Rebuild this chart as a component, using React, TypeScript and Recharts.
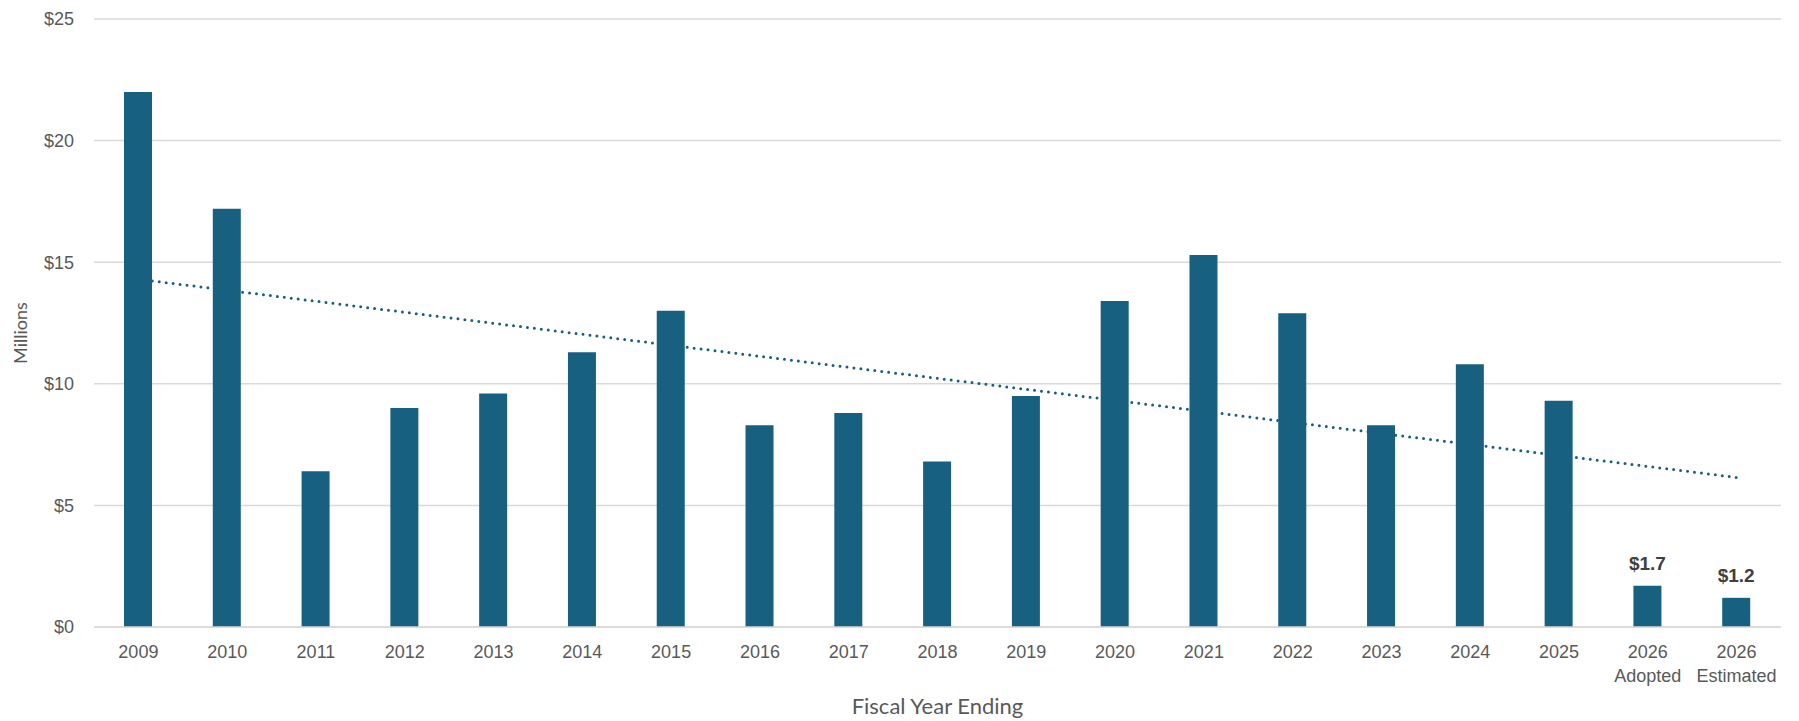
import React from 'react';
import { ComposedChart, Bar, Line, XAxis, YAxis, CartesianGrid, LabelList, Label } from 'recharts';

const years = ['2009','2010','2011','2012','2013','2014','2015','2016','2017','2018','2019','2020','2021','2022','2023','2024','2025','2026','2026'];
const subLabels = ['','','','','','','','','','','','','','','','','','Adopted','Estimated'];
const values = [22.0,17.2,6.4,9.0,9.6,11.3,13.0,8.3,8.8,6.8,9.5,13.4,15.3,12.9,8.3,10.8,9.3,1.7,1.2];
const dataLabels = ['','','','','','','','','','','','','','','','','','$1.7','$1.2'];
const trendEnds = [14.3, 6.15];
const yTicks = [0,5,10,15,20,25];

const data = years.map((y, i) => ({
  key: `${y}|${subLabels[i]}|${i}`,
  year: y,
  sub: subLabels[i],
  value: values[i],
  label: dataLabels[i] || null,
  trend: i === 0 ? trendEnds[0] : i === years.length - 1 ? trendEnds[1] : null,
}));

const BLUE = '#17607f';
const GRAY = '#595959';
const TICK_FONT = '"Liberation Sans", Arial, sans-serif';
const TITLE_FONT = 'Lato, "Open Sans", sans-serif';

const XTick = (props: any) => {
  const { x, y, payload } = props;
  const parts = String(payload.value).split('|');
  return (
    <text x={x} y={y} textAnchor="middle" fill={GRAY} fontSize={18} fontFamily={TICK_FONT}>
      <tspan x={x} dy="0.71em">{parts[0]}</tspan>
      {parts[1] ? <tspan x={x} dy="24">{parts[1]}</tspan> : null}
    </text>
  );
};

export default function App() {
  return (
    <div style={{ marginTop: -8, marginLeft: -8, width: 1799, height: 721 }}>
      <ComposedChart width={1799} height={721} data={data} margin={{ top: 19, right: 18, left: 0, bottom: 0 }}>
        <CartesianGrid horizontal vertical={false} stroke="#d9d9d9" strokeWidth={1.5} />
        <XAxis
          dataKey="key"
          height={94}
          tick={<XTick />}
          tickLine={false}
          tickSize={0}
          tickMargin={18}
          axisLine={{ stroke: '#d9d9d9', strokeWidth: 1.5 }}
          interval={0}
        >
          <Label
            content={(p: any) => {
              const vb = p.viewBox;
              return (
                <text x={vb.x + vb.width / 2} y={708} textAnchor="middle" dominantBaseline="middle" fill={GRAY} fontSize={22} fontFamily={TITLE_FONT}>
                  Fiscal Year Ending
                </text>
              );
            }}
          />
        </XAxis>
        <YAxis
          width={94}
          domain={[0, 25]}
          ticks={yTicks}
          tickFormatter={(v: number) => `$${v}`}
          tickLine={false}
          tickSize={0}
          tickMargin={20}
          axisLine={false}
          tick={{ fill: GRAY, fontSize: 18, fontFamily: TICK_FONT }}
        >
          <Label
            content={(p: any) => {
              const vb = p.viewBox;
              const cy = vb.y + vb.height / 2 + 10;
              return (
                <text x={22} y={cy} textAnchor="middle" dominantBaseline="middle" transform={`rotate(-90, 22, ${cy})`} fill={GRAY} fontSize={18} fontFamily={TITLE_FONT}>
                  Millions
                </text>
              );
            }}
          />
        </YAxis>
        <Line
          dataKey="trend"
          type="linear"
          connectNulls
          dot={false}
          activeDot={false}
          stroke={BLUE}
          strokeWidth={3}
          strokeLinecap="round"
          strokeDasharray="0 7"
          isAnimationActive={false}
        />
        <Bar dataKey="value" fill={BLUE} barSize={28} isAnimationActive={false}>
          <LabelList dataKey="label" position="top" offset={16} fill="#404040" fontSize={19} fontWeight="bold" fontFamily={TICK_FONT} />
        </Bar>
      </ComposedChart>
    </div>
  );
}
